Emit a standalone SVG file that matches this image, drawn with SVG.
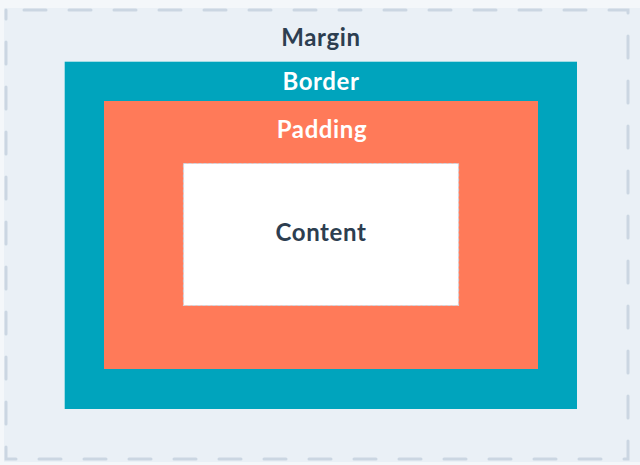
<svg xmlns="http://www.w3.org/2000/svg" width="640" height="465" viewBox="0 0 640 465">
<style>
.lbl{font-family:Lato,"Noto Sans","Liberation Sans",sans-serif;font-weight:700;font-size:24px;letter-spacing:0.6px;text-anchor:middle}
.dark{fill:#2d3e50}
.light{fill:#ffffff}
</style>
<rect x="0" y="0" width="640" height="465" fill="#f4f7fa"/>
<g id="margin">
<rect x="4" y="8" width="636" height="454" fill="#eaf0f6"/>
<rect x="6" y="10" width="622" height="449" fill="none" stroke="#cbd6e2" stroke-width="3" stroke-linecap="round" stroke-dasharray="22 23" stroke-dashoffset="-18"/>
<text class="lbl dark" x="321" y="46">Margin</text>
</g>
<g id="border">
<rect x="64" y="61" width="513" height="348" fill="#00a4bd"/>
<path d="M64 61.5H577M64.5 61V409" stroke="#e6f4f7" stroke-width="1" fill="none" opacity="0.7"/>
<text class="lbl light" x="321" y="90">Border</text>
</g>
<g id="padding">
<rect x="104" y="101" width="434" height="268" fill="#ff7a59"/>
<text class="lbl light" x="322" y="138">Padding</text>
</g>
<g id="content">
<rect x="183.5" y="163.5" width="275" height="142" fill="#ffffff" stroke="#cbd6e2" stroke-width="1.2" stroke-dasharray="3 2"/>
<text class="lbl dark" x="321" y="241">Content</text>
</g>
<g id="connectors"/>
</svg>
